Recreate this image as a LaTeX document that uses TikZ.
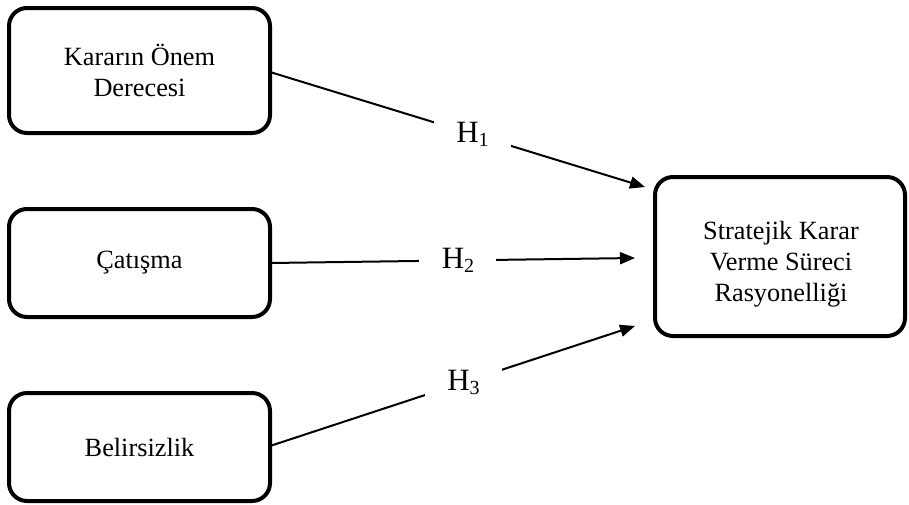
\documentclass[tikz,border=0pt]{standalone}
\usepackage{fontspec}
\setmainfont{Liberation Serif}
\usetikzlibrary{arrows.meta}
\tikzset{
  factor/.style={draw=black, line width=4pt, rounded corners=18pt, fill=white,
    align=center, font=\fontsize{26.3}{31.5}\selectfont, inner sep=0pt},
  factortext/.style={align=center, font=\fontsize{26.3}{31}\selectfont, inner sep=0pt},
  link/.style={line width=2pt, -{Triangle[length=15pt,width=12pt]}},
  hyp/.style={fill=white, inner sep=0pt, minimum width=77pt, minimum height=60pt,
    font=\fontsize{31}{34}\selectfont}
}
\newcommand{\hsub}[1]{H\raisebox{-4pt}{\fontsize{20}{22}\selectfont #1}}
\begin{document}
\begin{tikzpicture}[x=1pt,y=-1pt]
\useasboundingbox[fill=white] (0,0) rectangle (909,504);
\node[factor, minimum width=261pt, minimum height=125pt] (k) at (139.5,70.5) {Kararın Önem\\Derecesi};
\node[factor, minimum width=261pt, minimum height=108pt] (c) at (139.5,263) {\raisebox{-3pt}{Çatışma}};
\node[factor, minimum width=261pt, minimum height=108pt] (b) at (139.5,447) {Belirsizlik};
\node[factor, minimum width=250pt, minimum height=159pt] (s) at (780,256.5) {};
\node[factortext] (stext) at (781,264) {Stratejik Karar\\Verme Süreci\\Rasyonelliği};
\coordinate (t1) at (645,187);
\coordinate (t2) at (635,258);
\coordinate (t3) at (635,326);
\coordinate (k1) at (270,72);
\coordinate (c1) at (270,263);
\coordinate (b1) at (270,446);
\draw[link] (k1) -- node[hyp, pos=0.54] (h1) {\hsub{1}} (t1);
\draw[link] (c1) -- node[hyp, pos=0.515] (h2) {\hsub{2}} (t2);
\draw[link] (b1) -- node[hyp, pos=0.53] (h3) {\hsub{3}} (t3);
\end{tikzpicture}
\end{document}
